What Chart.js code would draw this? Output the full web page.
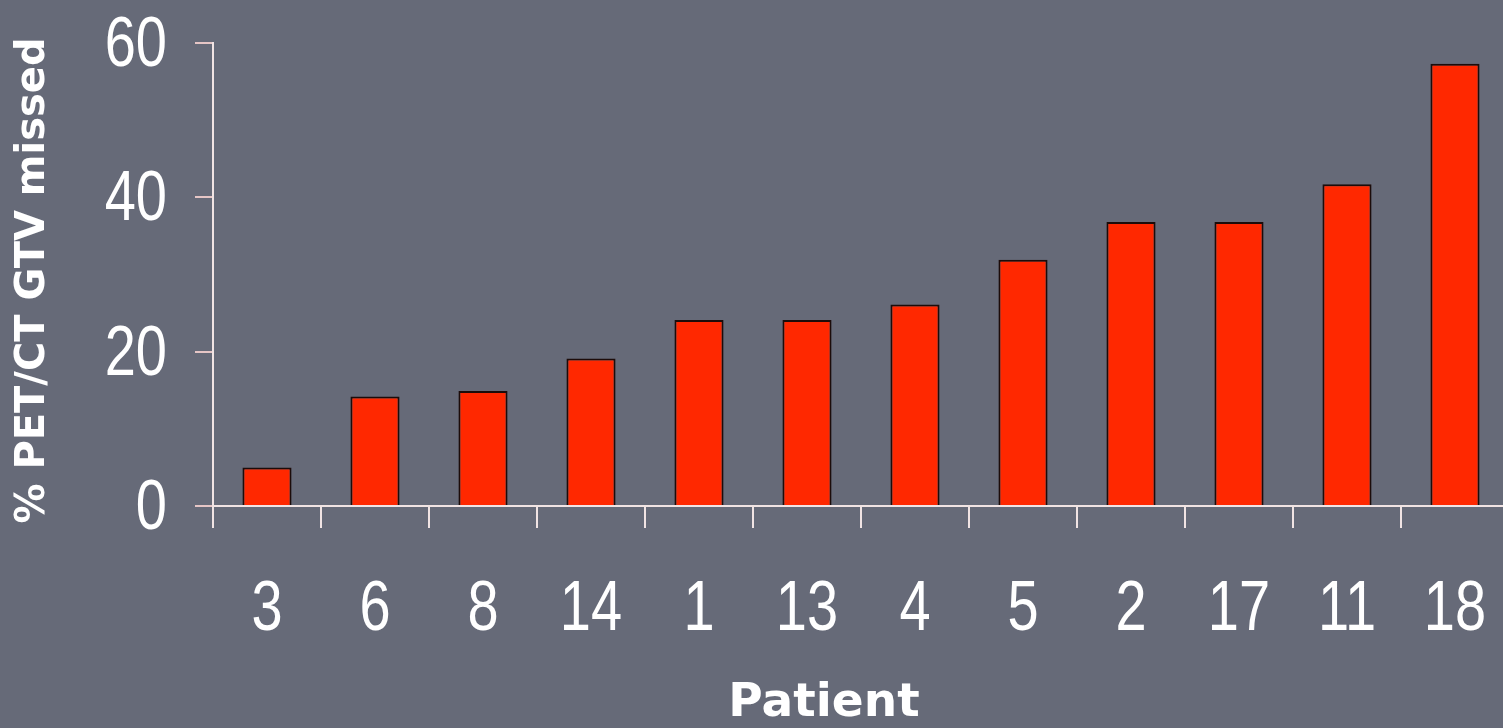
<!DOCTYPE html>
<html>
<head>
<meta charset="utf-8">
<script src="https://cdn.jsdelivr.net/npm/chart.js@4.4.1/dist/chart.umd.min.js"></script>
<style>
  html, body { margin: 0; padding: 0; overflow: hidden; background: #666a78; }
  #wrap { position: relative; width: 1509px; height: 728px; }
</style>
</head>
<body>
<div id="wrap"><canvas id="chart"></canvas></div>
<script>
// Patients, ordered by share of the PET/CT GTV that was missed
const patients = ['3', '6', '8', '14', '1', '13', '4', '5', '2', '17', '11', '18'];
const missedPct = [5.0, 14.2, 14.9, 19.1, 24.1, 24.1, 26.1, 31.9, 36.8, 36.8, 41.7, 57.3];
const yTicks = [0, 20, 40, 60];
const yTitle = '% PET/CT GTV missed';
const xTitle = 'Patient';

const axisColor = '#f1e4e4';
const tickFont = "70px 'Liberation Sans', Arial, sans-serif";
const tickSqueeze = 0.8;   // narrow face for the numeric labels
const titleFont = "bold 40px 'DejaVu Sans', Verdana, sans-serif";
const xTitleFont = "bold 47px 'DejaVu Sans', Verdana, sans-serif";

// Numeric tick labels in a condensed style, plus the two axis titles
const axisText = {
  id: 'axisText',
  afterDraw(chart) {
    const { ctx, chartArea, scales } = chart;
    ctx.save();
    ctx.fillStyle = '#ffffff';

    ctx.font = tickFont;
    ctx.textBaseline = 'alphabetic';
    ctx.textAlign = 'center';
    chart.data.labels.forEach((lab, i) => {
      const x = scales.x.getPixelForTick(i);
      ctx.save();
      ctx.translate(x, 630);
      ctx.scale(tickSqueeze, 1);
      ctx.fillText(lab, 0, 0);
      ctx.restore();
    });
    ctx.textAlign = 'right';
    yTicks.forEach(v => {
      const y = scales.y.getPixelForValue(v);
      ctx.save();
      ctx.translate(167, y + 23);
      ctx.scale(tickSqueeze, 1);
      ctx.fillText(String(v), 0, 0);
      ctx.restore();
    });

    ctx.textAlign = 'center';
    ctx.textBaseline = 'middle';
    ctx.font = xTitleFont;
    ctx.fillText(xTitle, chartArea.left + 611, 704);
    ctx.translate(34, (chartArea.top + chartArea.bottom) / 2 + 6);
    ctx.rotate(-Math.PI / 2);
    ctx.font = titleFont;
    ctx.fillText(yTitle, 0, 0);
    ctx.restore();
  }
};

new Chart(document.getElementById('chart'), {
  type: 'bar',
  data: {
    labels: patients,
    datasets: [{
      data: missedPct,
      backgroundColor: '#ff2800',
      borderColor: '#1c0c0a',
      borderWidth: 2,
      borderSkipped: 'bottom',
      categoryPercentage: 1,
      barPercentage: 0.455
    }]
  },
  options: {
    responsive: true,
    maintainAspectRatio: false,
    animation: false,
    layout: { padding: { top: 43, right: 0, left: 0, bottom: 0 } },
    plugins: { legend: { display: false }, tooltip: { enabled: false } },
    scales: {
      x: {
        offset: true,
        grid: {
          offset: true,
          drawOnChartArea: false,
          drawTicks: true,
          tickLength: 22,
          color: axisColor,
          lineWidth: 2
        },
        border: { color: axisColor, width: 2 },
        ticks: { display: false, autoSkip: false, maxRotation: 0 },
        afterFit(scale) {
          scale.height = 222;
          scale.paddingLeft = 0;
          scale.paddingRight = 0;
        }
      },
      y: {
        min: 0,
        max: 60,
        afterBuildTicks(scale) { scale.ticks = yTicks.map(v => ({ value: v })); },
        grid: {
          drawOnChartArea: false,
          drawTicks: true,
          tickLength: 18,
          color: '#e6c6c6',
          lineWidth: 2
        },
        border: { color: axisColor, width: 2 },
        ticks: { display: false },
        afterFit(scale) {
          scale.width = 213;
          scale.paddingTop = 0;
          scale.paddingBottom = 0;
        }
      }
    }
  },
  plugins: [axisText]
});
</script>
</body>
</html>
